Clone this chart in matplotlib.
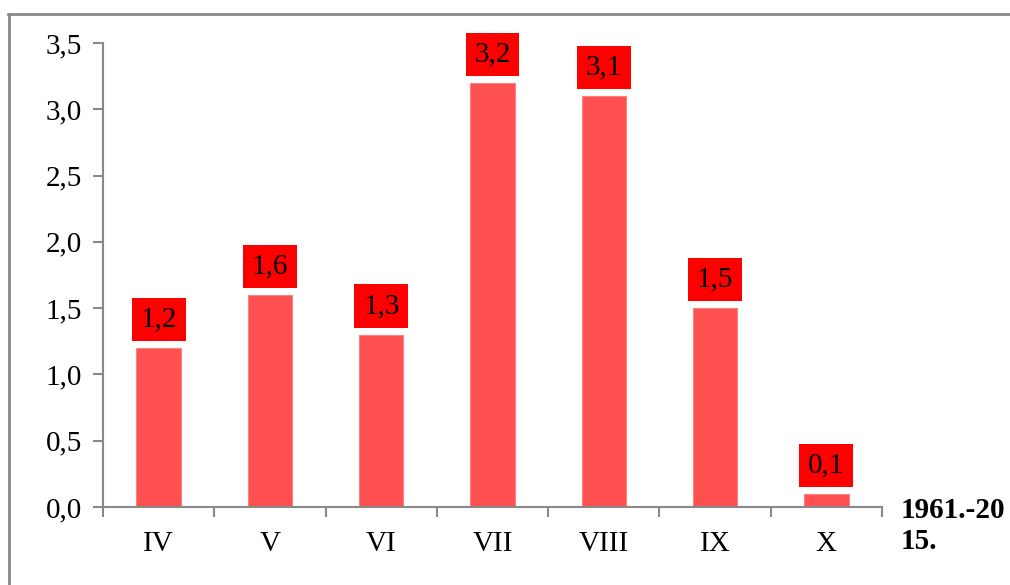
import matplotlib
matplotlib.use("Agg")
import matplotlib.pyplot as plt
from matplotlib.lines import Line2D

categories = ["IV", "V", "VI", "VII", "VIII", "IX", "X"]
values = [1.2, 1.6, 1.3, 3.2, 3.1, 1.5, 0.1]
yticks = [0.0, 0.5, 1.0, 1.5, 2.0, 2.5, 3.0, 3.5]
period_label = "1961.-20\n15."

plt.rcParams['font.family'] = ['Liberation Serif', 'DejaVu Serif']

fig = plt.figure(figsize=(10.1, 5.85), dpi=100)
ax = fig.add_axes([103/1010, 1-507/585, (882-103)/1010, (507-43)/585])

x = list(range(len(categories)))
ax.bar(x, values, width=0.4, color="#FF5050", edgecolor="#FF8080", linewidth=0.8, zorder=2)
for xi, v in zip(x, values):
    lbl = f"{v:.1f}".replace(".", ",")
    ax.annotate(lbl, (xi, v), xytext=(0, 20.5), textcoords="offset points",
                ha="center", va="center", fontsize=21, color="black",
                bbox=dict(boxstyle="square,pad=0.3", facecolor="#FF0000", edgecolor="none"))

ax.set_xlim(-0.5, len(categories) - 0.5)
ax.set_ylim(0, 3.5)
ax.set_yticks(yticks)
ax.set_yticklabels([f"{t:.1f}".replace(".", ",") for t in yticks], fontsize=21)
ax.set_xticks(x)
ax.set_xticklabels(categories, fontsize=21)
ax.set_xticks([i - 0.5 for i in range(len(categories) + 1)], minor=True)
ax.tick_params(axis="x", which="major", length=0, pad=17)
ax.tick_params(axis="x", which="minor", length=7, color="#898989", width=1.5, direction="out")
ax.tick_params(axis="y", length=7, color="#898989", width=1.5, direction="out", pad=8)

for s in ["top", "right"]:
    ax.spines[s].set_visible(False)
for s in ["left", "bottom"]:
    ax.spines[s].set_color("#898989")
    ax.spines[s].set_linewidth(1.5)

fig.text(901/1010, 1-526/585, period_label, fontsize=21, fontweight="bold",
         ha="left", va="center", linespacing=1.2)

fig.add_artist(Line2D([8/1010, 1.0], [1-13.5/585, 1-13.5/585], transform=fig.transFigure, color="#898989", linewidth=2))
fig.add_artist(Line2D([8.5/1010, 8.5/1010], [1-13.5/585, 0.0], transform=fig.transFigure, color="#898989", linewidth=2))

fig.savefig("out.png", dpi=100)
